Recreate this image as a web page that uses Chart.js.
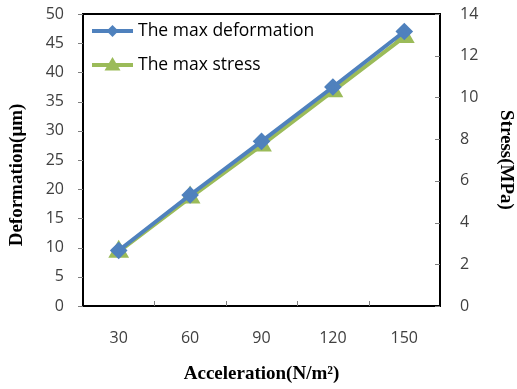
<!DOCTYPE html>
<html><head><meta charset="utf-8">
<script src="https://cdn.jsdelivr.net/npm/chart.js@4"></script>
<style>html,body{margin:0;padding:0;background:#fff}#wrap{width:517px;height:389px}</style>
</head><body><div id="wrap"><canvas id="c" width="517" height="389"></canvas></div>
<script>
const categories = ['30', '60', '90', '120', '150'];
const deformation = [9.5, 19.0, 28.2, 37.5, 47.0];
const stress = [2.6, 5.2, 7.7, 10.3, 12.9];
const seriesNames = ['The max deformation', 'The max stress'];
const xTitle = 'Acceleration(N/m\u00B2)';
const yTitle = 'Deformation(\u03BCm)';
const y2Title = 'Stress(MPa)';

const BLUE = '#4F81BD', GREEN = '#9BBB59';
const tickFont = {family: 'Open Sans', size: 16};
const titleFont = {family: 'Liberation Serif', size: 19, weight: 'bold'};

const frame = {
  id: 'frame',
  afterDatasetsDraw(chart) {
    const {ctx, chartArea: a, scales} = chart;
    ctx.save();
    ctx.strokeStyle = '#000'; ctx.lineWidth = 2;
    ctx.strokeRect(a.left, a.top, a.right - a.left, a.bottom - a.top);
    ctx.lineWidth = 1; ctx.strokeStyle = '#7f7f7f';
    ctx.beginPath();
    scales.y.ticks.forEach((t, i) => {
      const py = Math.round(scales.y.getPixelForTick(i)) + 0.5;
      ctx.moveTo(a.left - 5, py); ctx.lineTo(a.left, py);
    });
    scales.y2.ticks.forEach((t, i) => {
      const py = Math.round(scales.y2.getPixelForTick(i)) + 0.5;
      ctx.moveTo(a.right - 5, py); ctx.lineTo(a.right, py);
    });
    const n = categories.length;
    for (let i = 1; i < n; i++) {
      const px = Math.round((scales.x.getPixelForValue(i - 1) + scales.x.getPixelForValue(i)) / 2) + 0.5;
      ctx.moveTo(px, a.bottom - 5); ctx.lineTo(px, a.bottom);
    }
    ctx.stroke();
    // left axis title (slightly below centre, as in the reference)
    ctx.save();
    ctx.translate(17, (a.top + a.bottom) / 2 + 15);
    ctx.rotate(-Math.PI / 2);
    ctx.font = 'bold 19px "Liberation Serif"';
    ctx.fillStyle = '#000';
    ctx.textAlign = 'center'; ctx.textBaseline = 'middle';
    ctx.fillText(yTitle, 0, 0);
    ctx.restore();
    // legend inside plot
    const items = chart.data.datasets;
    items.forEach((ds, i) => {
      const y = a.top + 17 + i * 34;
      const x0 = a.left + 9, x1 = a.left + 50;
      ctx.strokeStyle = ds.borderColor; ctx.lineWidth = 4;
      ctx.beginPath(); ctx.moveTo(x0, y); ctx.lineTo(x1, y); ctx.stroke();
      ctx.fillStyle = ds.borderColor;
      const cx = (x0 + x1) / 2;
      ctx.beginPath();
      if (ds.pointStyle === 'rectRot') {
        const r = 6;
        ctx.moveTo(cx, y - r); ctx.lineTo(cx + r, y); ctx.lineTo(cx, y + r); ctx.lineTo(cx - r, y);
      } else {
        const r = 8;
        ctx.moveTo(cx, y - r); ctx.lineTo(cx + r, y + r * 0.7); ctx.lineTo(cx - r, y + r * 0.7);
      }
      ctx.closePath(); ctx.fill();
      ctx.fillStyle = '#000';
      ctx.font = '17.5px "Open Sans"';
      ctx.textBaseline = 'middle';
      ctx.fillText(ds.label, x1 + 5, y);
    });
    ctx.restore();
  }
};

function zeroPad(s) { s.paddingTop = 0; s.paddingBottom = 0; }

new Chart(document.getElementById('c'), {
  type: 'line',
  data: {
    labels: categories,
    datasets: [
      {label: seriesNames[0], data: deformation, yAxisID: 'y', borderColor: BLUE, backgroundColor: BLUE,
       borderWidth: 4, pointStyle: 'rectRot', pointRadius: 6, pointHoverRadius: 6, tension: 0},
      {label: seriesNames[1], data: stress, yAxisID: 'y2', borderColor: GREEN, backgroundColor: GREEN,
       borderWidth: 4, pointStyle: 'triangle', pointRadius: 8, pointHoverRadius: 8, tension: 0}
    ]
  },
  options: {
    responsive: false, animation: false,
    layout: {padding: {top: 14, left: 0, right: 0, bottom: 0}},
    plugins: {legend: {display: false}, tooltip: {enabled: false}},
    scales: {
      x: {
        offset: true,
        grid: {display: false},
        border: {display: false},
        ticks: {font: tickFont, color: '#404040', padding: 15},
        title: {display: true, text: xTitle, font: titleFont, color: '#000', padding: {top: 15}},
        afterFit(s) { s.height = 83; s.paddingLeft = 0; s.paddingRight = 0; }
      },
      y: {
        position: 'left', min: 0, max: 50,
        grid: {display: false}, border: {display: false},
        ticks: {stepSize: 5, font: tickFont, color: '#404040', padding: 11},
        afterFit(s) { s.width = 83; zeroPad(s); }
      },
      y2: {
        position: 'right', min: 0, max: 14,
        grid: {display: false}, border: {display: false},
        ticks: {stepSize: 2, font: tickFont, color: '#404040', padding: 12},
        title: {display: true, text: y2Title, font: titleFont, color: '#000', padding: {top: 0, bottom: 4}},
        afterFit(s) { s.width = 77; zeroPad(s); }
      }
    }
  },
  plugins: [frame]
});
</script></body></html>
